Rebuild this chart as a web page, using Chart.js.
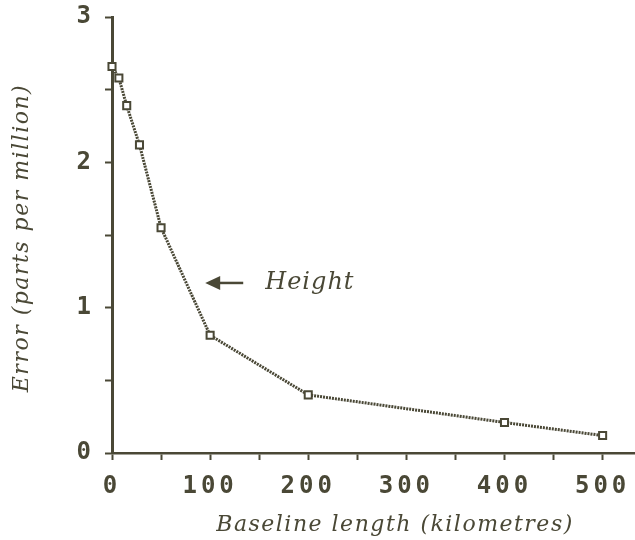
<!DOCTYPE html>
<html>
<head>
<meta charset="utf-8">
<script src="https://cdn.jsdelivr.net/npm/chart.js@4.4.1/dist/chart.umd.min.js"></script>
<style>
  html, body { margin: 0; padding: 0; background: #fff; }
  #wrap { width: 635px; height: 540px; }
</style>
</head>
<body>
<div id="wrap"><canvas id="chart"></canvas></div>
<script>
// values
const baselineKm = [0, 7, 15, 28, 50, 100, 200, 400, 500]
const errorPpm = [2.66, 2.58, 2.39, 2.12, 1.55, 0.81, 0.40, 0.21, 0.12]
const xTickValues = [0, 50, 100, 150, 200, 250, 300, 350, 400, 450, 500]
const yTickValues = [0, 0.5, 1, 1.5, 2, 2.5, 3]
const xTitle = "Baseline length (kilometres)"
const yTitle = "Error (parts per million)"
const noteText = "Height"
const notePoint = [95, 1.17]

const ink = "#4a4836"
const tickFont = { family: "DejaVu Sans Mono", size: 24, weight: "bold" }

// letter spacing for tick labels + titles and the "Height" arrow
const extras = {
    id: "extras",
    beforeDraw(chart) {
        chart.ctx.letterSpacing = "4px"
    },
    afterDraw(chart) {
        const ctx = chart.ctx
        const xs = chart.scales.x
        const ys = chart.scales.y
        ctx.save()
        ctx.fillStyle = ink
        ctx.strokeStyle = ink

        // arrow pointing at the curve
        const tx = xs.getPixelForValue(notePoint[0])
        const ty = ys.getPixelForValue(notePoint[1])
        ctx.lineWidth = 2.5
        ctx.beginPath()
        ctx.moveTo(tx + 10, ty)
        ctx.lineTo(tx + 38, ty)
        ctx.stroke()
        ctx.beginPath()
        ctx.moveTo(tx, ty)
        ctx.lineTo(tx + 15, ty - 7)
        ctx.lineTo(tx + 15, ty + 7)
        ctx.closePath()
        ctx.fill()

        ctx.letterSpacing = "1px"
        ctx.font = "italic 24px 'DejaVu Serif'"
        ctx.textAlign = "left"
        ctx.textBaseline = "middle"
        ctx.fillText(noteText, tx + 60, ty)

        // axis titles
        ctx.letterSpacing = "1.5px"
        ctx.font = "italic 22px 'DejaVu Serif'"
        ctx.textAlign = "center"
        ctx.fillText(xTitle, 395, 525)

        ctx.translate(22, 238)
        ctx.rotate(-Math.PI / 2)
        ctx.fillText(yTitle, 0, 0)
        ctx.restore()
        ctx.letterSpacing = "0px"
    }
}

const ctx = document.getElementById("chart")
new Chart(ctx, {
    type: "line",
    data: {
        datasets: [{
            data: baselineKm.map((x, i) => ({ x: x, y: errorPpm[i] })),
            borderColor: ink,
            borderWidth: 3,
            borderDash: [2, 1],
            pointStyle: "rect",
            pointRadius: 5,
            pointBackgroundColor: "#fff",
            pointBorderColor: ink,
            pointBorderWidth: 2,
            tension: 0,
            clip: false,
        }]
    },
    options: {
        responsive: true,
        maintainAspectRatio: false,
        animation: false,
        layout: { autoPadding: false, padding: { top: 17, left: 0, right: 0, bottom: 0 } },
        plugins: {
            legend: { display: false },
            tooltip: { enabled: false },
        },
        scales: {
            x: {
                type: "linear",
                min: 0,
                max: 533,
                afterBuildTicks: (s) => { s.ticks = xTickValues.map(v => ({ value: v })) },
                afterFit: (s) => {
                    s.height = 87
                    s.paddingLeft = 0
                    s.paddingRight = 0
                },
                ticks: {
                    callback: (v) => v % 100 === 0 ? v : "",
                    font: tickFont,
                    color: ink,
                    padding: 12,
                    maxRotation: 0,
                    autoSkip: false,
                },
                grid: { drawOnChartArea: false, tickLength: 7, tickWidth: 2, color: ink },
                border: { color: ink, width: 2.5 },
            },
            y: {
                min: 0,
                max: 3,
                afterBuildTicks: (s) => { s.ticks = yTickValues.map(v => ({ value: v })) },
                afterFit: (s) => {
                    s.width = 112
                    s.paddingTop = 0
                    s.paddingBottom = 0
                },
                ticks: {
                    callback: (v) => Number.isInteger(v) ? v : "",
                    font: tickFont,
                    color: ink,
                    padding: 10,
                    autoSkip: false,
                },
                grid: { drawOnChartArea: false, tickLength: 7, tickWidth: 2, color: ink },
                border: { color: ink, width: 3 },
            }
        }
    },
    plugins: [extras]
})
</script>
</body>
</html>
